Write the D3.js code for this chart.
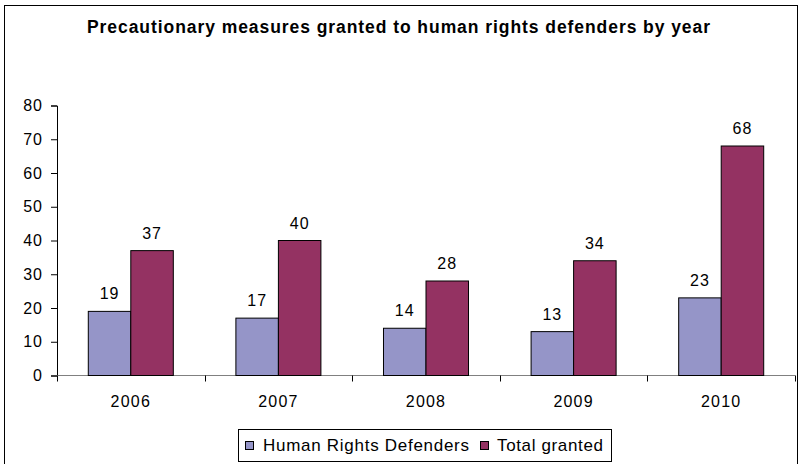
<!DOCTYPE html>
<html>
<head>
<meta charset="utf-8">
<script src="https://cdn.jsdelivr.net/npm/d3@7"></script>
<style>
  html, body { margin: 0; padding: 0; background: #fff; }
  svg { display: block; font-family: "Liberation Sans", Arial, sans-serif; }
</style>
</head>
<body>
<div id="chart"></div>
<script>
/* ── Data ─────────────────────────────────────────────── */
const years = ["2006", "2007", "2008", "2009", "2010"];
const defenders = [19, 17, 14, 13, 23];
const totalGranted = [37, 40, 28, 34, 68];
const seriesNames = ["Human Rights Defenders", "Total granted"];
const yTicks = [0, 10, 20, 30, 40, 50, 60, 70, 80];

/* ── Layout ───────────────────────────────────────────── */
const W = 800, H = 464;
const x0 = 57, x1 = 795, yTop = 105.5, yBot = 375.5;
const colors = ["#9595c8", "#943262"];

const svg = d3.select("#chart").append("svg").attr("width", W).attr("height", H);

// outer frame
svg.append("rect")
  .attr("x", 4.5).attr("y", 5.5).attr("width", 793).attr("height", 480)
  .attr("fill", "none").attr("stroke", "#000").attr("stroke-width", 1);

// title
svg.append("text")
  .attr("x", 87).attr("y", 33)
  .attr("font-weight", "bold").attr("font-size", 17.5)
  .attr("textLength", 623).attr("lengthAdjust", "spacing")
  .text("Precautionary measures granted to human rights defenders by year");

/* ── Scales ───────────────────────────────────────────── */
const x = d3.scaleBand().domain(years).range([x0, x1]).paddingInner(0).paddingOuter(0);
const inner = d3.scaleBand().domain([0, 1]).range([0, x.bandwidth() * 0.576]);
const y = d3.scaleLinear().domain([0, 80]).range([yBot, yTop]);

/* ── Axes ─────────────────────────────────────────────── */
const yAxis = svg.append("g").attr("transform", `translate(${x0},0)`)
  .call(d3.axisLeft(y).tickValues(yTicks).tickSize(6).tickPadding(8));
yAxis.select(".domain").attr("stroke", "#000");
yAxis.selectAll(".tick line").attr("stroke", "#000");
yAxis.selectAll("text").attr("font-size", 16).attr("fill", "#000")
  .attr("letter-spacing", 1)
  .attr("font-family", "Liberation Sans, Arial, sans-serif");

// x axis: line plus ticks at band boundaries
const xAxis = svg.append("g");
xAxis.append("line")
  .attr("x1", x0).attr("x2", x1).attr("y1", yBot).attr("y2", yBot)
  .attr("stroke", "#808080");
const bounds = years.map(d => x(d)).concat([x1]);
xAxis.selectAll("line.tk").data(bounds).join("line").attr("class", "tk")
  .attr("x1", d => Math.round(d) + 0.5).attr("x2", d => Math.round(d) + 0.5)
  .attr("y1", yBot).attr("y2", yBot + 6).attr("stroke", "#000");
xAxis.selectAll("text").data(years).join("text")
  .attr("x", d => x(d) + x.bandwidth() / 2).attr("y", 407)
  .attr("text-anchor", "middle").attr("font-size", 16)
  .attr("letter-spacing", 1.2)
  .text(d => d);

/* ── Bars ─────────────────────────────────────────────── */
const rows = years.map((yr, i) => ({ yr, vals: [defenders[i], totalGranted[i]] }));
const groups = svg.selectAll("g.grp").data(rows).join("g").attr("class", "grp")
  .attr("transform", d => `translate(${x(d.yr) + (x.bandwidth() - inner.range()[1]) / 2},0)`);

groups.selectAll("rect").data(d => d.vals).join("rect")
  .attr("x", (d, i) => inner(i))
  .attr("y", d => y(d))
  .attr("width", inner.bandwidth())
  .attr("height", d => yBot - y(d))
  .attr("fill", (d, i) => colors[i])
  .attr("stroke", "#000").attr("stroke-width", 1);

groups.selectAll("text").data(d => d.vals).join("text")
  .attr("x", (d, i) => inner(i) + inner.bandwidth() / 2)
  .attr("y", d => y(d) - 12)
  .attr("text-anchor", "middle").attr("font-size", 16)
  .attr("letter-spacing", 1)
  .text(d => d);

/* ── Legend ───────────────────────────────────────────── */
const legend = svg.append("g");
legend.append("rect")
  .attr("x", 238.5).attr("y", 429.5).attr("width", 373).attr("height", 32)
  .attr("fill", "#fff").attr("stroke", "#000");
const legX = [245, 480];
const legTextX = [263, 497];
const legTextW = [206, 106];
seriesNames.forEach((name, i) => {
  legend.append("rect")
    .attr("x", legX[i] + 0.5).attr("y", 441.5).attr("width", 8).attr("height", 8)
    .attr("fill", colors[i]).attr("stroke", "#000");
  legend.append("text")
    .attr("x", legTextX[i]).attr("y", 451)
    .attr("font-size", 17)
    .attr("textLength", legTextW[i]).attr("lengthAdjust", "spacing")
    .text(name);
});
</script>
</body>
</html>
